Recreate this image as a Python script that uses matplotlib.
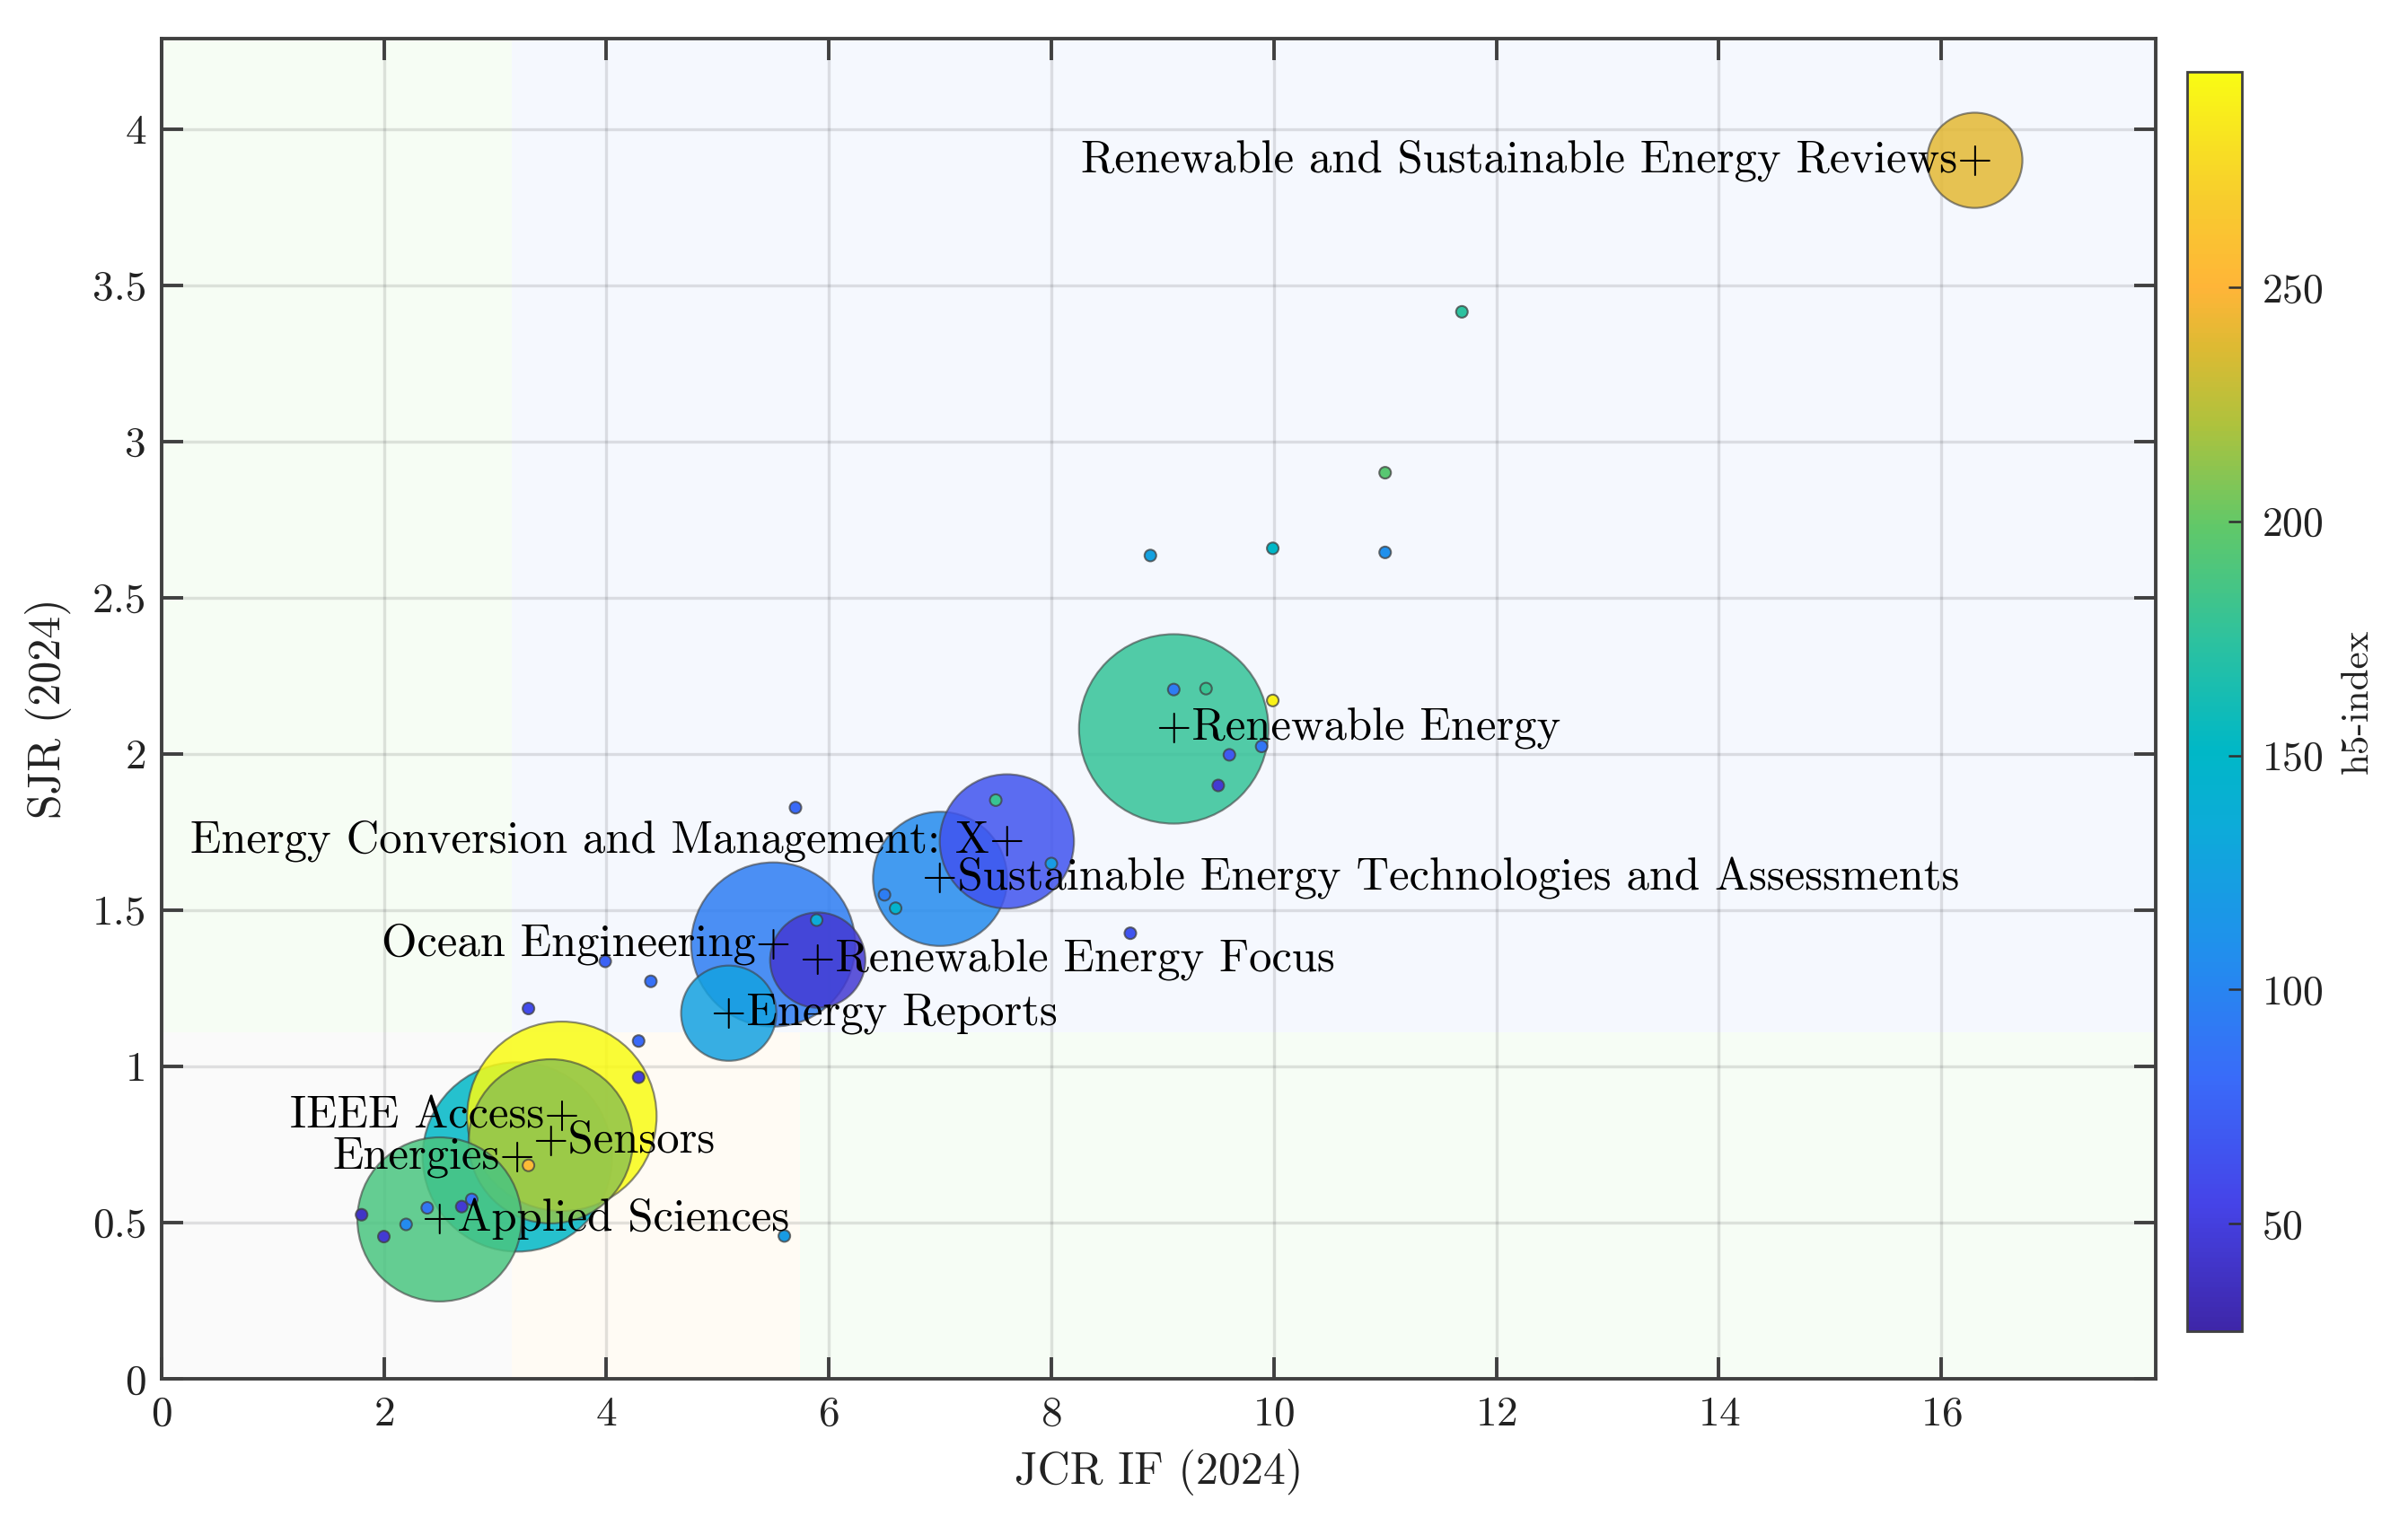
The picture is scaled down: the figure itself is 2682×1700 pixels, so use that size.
import numpy as np
import matplotlib
matplotlib.use('Agg')
import matplotlib.pyplot as plt
from matplotlib.colors import LinearSegmentedColormap, Normalize
from matplotlib.cm import ScalarMappable
from matplotlib.ticker import FuncFormatter

plt.rcParams['font.family'] = 'serif'
plt.rcParams['font.serif'] = ['cmr10']
plt.rcParams['axes.formatter.use_mathtext'] = True

# labelled journals (JCR IF, SJR, h5-index, number of papers)
names = ['Energies', 'IEEE Access', 'Renewable Energy', 'Ocean Engineering', 'Sensors',
         'Applied Sciences', 'Sustainable Energy Technologies and Assessments',
         'Energy Conversion and Management: X', 'Renewable and Sustainable Energy Reviews',
         'Energy Reports', 'Renewable Energy Focus']
jif = [3.2, 3.6, 9.1, 5.5, 3.5, 2.5, 7.0, 7.6, 16.3, 5.1, 5.9]
sjr = [0.71, 0.84, 2.08, 1.39, 0.76, 0.51, 1.60, 1.72, 3.90, 1.17, 1.34]
h5 = [150, 295, 178, 95, 212, 188, 105, 65, 240, 125, 45]
papers = [5, 5, 5, 4, 4, 4, 3, 3, 2, 2, 2]
label_side = ['left', 'left', 'right', 'left', 'right', 'right', 'right', 'left', 'left',
              'right', 'right']

# journals with a single paper
jif_1 = [1.80, 2.00, 2.20, 2.39, 2.70, 2.79, 3.30, 3.30, 3.99, 4.29, 4.29, 4.40, 5.60, 5.70,
         5.89, 6.50, 6.60, 7.50, 8.00, 8.71, 8.89, 9.10, 9.39, 9.50, 9.60, 9.89, 9.99, 9.99,
         11.0, 11.0, 11.69]
sjr_1 = [0.525, 0.455, 0.494, 0.547, 0.551, 0.574, 0.683, 1.185, 1.336, 1.081, 0.965, 1.272,
         0.457, 1.828, 1.468, 1.549, 1.506, 1.852, 1.649, 1.426, 2.635, 2.206, 2.209, 1.899,
         1.997, 2.024, 2.171, 2.658, 2.900, 2.645, 3.415]
h5_1 = [40, 45, 105, 90, 45, 85, 255, 60, 75, 80, 50, 85, 120, 80, 135, 95, 145, 180, 120, 65,
        125, 95, 180, 45, 70, 90, 290, 150, 195, 110, 175]

# parula-like colormap
parula = LinearSegmentedColormap.from_list('parula', [
    (0.00, (0.242, 0.150, 0.660)),
    (0.10, (0.272, 0.265, 0.910)),
    (0.20, (0.225, 0.420, 0.975)),
    (0.30, (0.130, 0.560, 0.930)),
    (0.40, (0.050, 0.670, 0.850)),
    (0.46, (0.000, 0.720, 0.780)),
    (0.55, (0.180, 0.760, 0.620)),
    (0.64, (0.380, 0.785, 0.410)),
    (0.72, (0.680, 0.760, 0.240)),
    (0.78, (0.860, 0.730, 0.200)),
    (0.83, (1.000, 0.710, 0.220)),
    (0.90, (0.970, 0.800, 0.180)),
    (1.00, (0.977, 0.984, 0.080))])
norm = Normalize(vmin=27, vmax=296)

dpi = 100
fig = plt.figure(figsize=(26.82, 17.0), dpi=dpi)
ax = fig.add_axes([0.067, 0.0965, 0.8284, 0.8783])

xmax = max(jif) * 1.1
ymax = max(sjr) * 1.1
ax.set_xlim(0, xmax)
ax.set_ylim(0, ymax)

# shaded zones
q_x1, q_x2, q_y = 3.149, 5.74, 1.11
ax.fill_between([0, q_x1], q_y, ymax, color='#f6fdf4', zorder=0, lw=0)
ax.fill_between([q_x1, xmax], q_y, ymax, color='#f5f8fe', zorder=0, lw=0)
ax.fill_between([0, q_x1], 0, q_y, color='#fafafa', zorder=0, lw=0)
ax.fill_between([q_x1, q_x2], 0, q_y, color='#fffbf4', zorder=0, lw=0)
ax.fill_between([q_x2, xmax], 0, q_y, color='#f6fdf5', zorder=0, lw=0)

ax.grid(True, color='#26262a', alpha=0.13, lw=2.4, zorder=1)
ax.set_axisbelow(True)


def bubble_s(n):
    # area grows linearly with the number of papers
    rmin, rmax = 6.5, 105.5
    r = np.sqrt(rmin ** 2 + (np.asarray(n) - 1) / 4 * (rmax ** 2 - rmin ** 2))
    return (2 * r * 72 / dpi) ** 2


order = np.argsort(-np.array(papers), kind='stable')
fc = parula(norm(np.array(h5)[order]))
fc[:, 3] = 0.85
ax.scatter(np.array(jif)[order], np.array(sjr)[order], s=bubble_s(np.array(papers)[order]),
           c=fc, edgecolors=(0.25, 0.25, 0.25, 0.6), linewidths=1.6, zorder=3)

fc1 = parula(norm(np.array(h5_1)))
ax.scatter(jif_1, sjr_1, s=bubble_s(np.ones(len(jif_1))), c=fc1,
           edgecolors=(0.25, 0.25, 0.25, 0.75), linewidths=1.5, zorder=4)

fs_lab = 36.5
half_plus = 0.39 * fs_lab
for name, x, y, side in zip(names, jif, sjr, label_side):
    if side == 'right':
        ax.annotate('+' + name, (x, y), xytext=(-half_plus, -0.25 * fs_lab),
                    textcoords='offset points', ha='left', va='baseline',
                    fontsize=fs_lab, color='black', zorder=5)
    else:
        ax.annotate(name + '+', (x, y), xytext=(half_plus, -0.25 * fs_lab),
                    textcoords='offset points', ha='right', va='baseline',
                    fontsize=fs_lab, color='black', zorder=5)

ax.set_xticks(np.arange(0, 17, 2))
ax.set_yticks(np.arange(0, 4.01, 0.5))
ax.yaxis.set_major_formatter(FuncFormatter(lambda v, p: f'{v:g}'))
ax.tick_params(direction='in', length=17, width=2.8, color='#404040', labelsize=34,
               top=True, right=True, labelcolor='#222222')
ax.tick_params(axis='x', pad=14)
ax.tick_params(axis='y', pad=12)
for sp in ax.spines.values():
    sp.set_color('#404040')
    sp.set_linewidth(2.8)

ax.set_xlabel('JCR IF (2024)', fontsize=36, color='#222222', labelpad=12)
ax.set_ylabel('SJR (2024)', fontsize=36, color='#222222', labelpad=16)

cax = fig.add_axes([0.9083, 0.1276, 0.0227, 0.8253])
cb = fig.colorbar(ScalarMappable(norm=norm, cmap=parula), cax=cax)
cb.set_ticks([50, 100, 150, 200, 250])
cb.ax.tick_params(direction='in', length=11, width=1.8, color='#303030', labelsize=33,
                  labelcolor='#222222', pad=16)
cb.outline.set_edgecolor('#404040')
cb.outline.set_linewidth(2.0)
cb.set_label('h5-index', fontsize=31, color='#222222', labelpad=14)

fig.savefig('out.png', dpi=dpi, facecolor='white')
